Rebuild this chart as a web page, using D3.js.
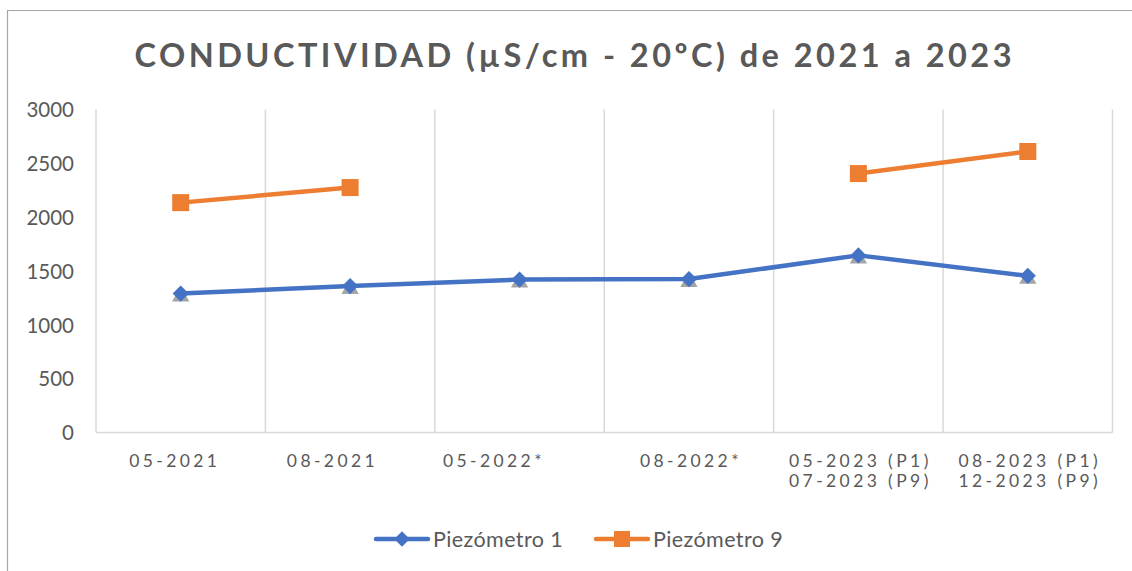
<!DOCTYPE html>
<html>
<head>
<meta charset="utf-8">
<script src="https://cdn.jsdelivr.net/npm/d3@7"></script>
<style>
  html, body { margin: 0; padding: 0; background: #fff; }
  svg { display: block; }
  text { font-family: Lato, "Open Sans", sans-serif; fill: #595959; }
</style>
</head>
<body>
<svg id="chart" width="1132" height="571"></svg>
<script>
const title = "CONDUCTIVIDAD (µS/cm - 20ºC) de 2021 a 2023";
const categories = [
  ["05-2021  "],
  ["08-2021     "],
  ["05-2022*       "],
  ["08-2022*"],
  ["05-2023 (P1)", "07-2023 (P9)"],
  ["08-2023 (P1)", "12-2023 (P9)"]
];
const seriesNames = ["Piezómetro 1", "Piezómetro 9"];
const piezometro1 = [1290, 1360, 1420, 1425, 1645, 1455];
const piezometro9 = [2135, 2275, null, null, 2405, 2610];
const hiddenSeries = [1290, 1360, 1420, 1425, 1645, 1455];
const yTicks = [0, 500, 1000, 1500, 2000, 2500, 3000];

const svg = d3.select("#chart");
const W = 1132, H = 571;
const m = { left: 96, right: 1112.5, top: 109.5, bottom: 432.5 };

// outer border (partially visible)
svg.append("path")
  .attr("d", `M7.5,${H} L7.5,10.5 L${W},10.5`)
  .attr("fill", "none").attr("stroke", "#a6a6a6").attr("stroke-width", 1.2);

// title
svg.append("text")
  .attr("x", 573).attr("y", 67)
  .attr("text-anchor", "middle")
  .attr("textLength", 877).attr("lengthAdjust", "spacing")
  .style("font-size", "32.5px").style("font-weight", "700")
  .style("font-family", "Lato, 'Open Sans', sans-serif")
  .text(title);

const idx = categories.map((d, i) => i);
const x = d3.scaleBand().domain(idx).range([m.left, m.right]).paddingInner(0).paddingOuter(0);
const y = d3.scaleLinear().domain([0, 3000]).range([m.bottom, m.top]);

// vertical gridlines at category boundaries
const bounds = idx.map(i => x(i)).concat([x(idx.length - 1) + x.bandwidth()]);
svg.append("g").selectAll("line").data(bounds).join("line")
  .attr("x1", d => d).attr("x2", d => d)
  .attr("y1", m.top).attr("y2", m.bottom)
  .attr("stroke", "#d9d9d9").attr("stroke-width", 1.5);

// baseline
svg.append("line")
  .attr("x1", m.left).attr("x2", m.right)
  .attr("y1", m.bottom).attr("y2", m.bottom)
  .attr("stroke", "#d9d9d9").attr("stroke-width", 1.5);

// y axis labels
const yAxis = d3.axisLeft(y).tickValues(yTicks).tickFormat(d3.format("d")).tickSize(0).tickPadding(0);
const gy = svg.append("g").attr("transform", "translate(74,0)").call(yAxis);
gy.select(".domain").remove();
gy.selectAll("text").style("font-size", "20.5px").style("font-family", "Lato, sans-serif").attr("fill", "#595959").attr("dy", "0.35em");

// x axis labels
const xAxis = d3.axisBottom(x).tickSize(0).tickFormat("");
const gx = svg.append("g").attr("transform", `translate(0,${m.bottom})`).call(xAxis);
gx.select(".domain").remove();
gx.selectAll(".tick").each(function(i) {
  const t = d3.select(this).append("text")
    .attr("text-anchor", "middle")
    .attr("y", 34)
    .style("font-size", "17.5px")
    .style("letter-spacing", "3.4px")
    .style("white-space", "pre")
    .attr("fill", "#595959");
  categories[i].forEach((line, k) => {
    t.append("tspan").attr("x", 2).attr("dy", k === 0 ? 0 : 20).text(line);
  });
});

const cx = i => x(i) + x.bandwidth() / 2;
const line = d3.line().defined(d => d != null).x((d, i) => cx(i)).y(d => y(d));

// hidden grey series (triangles only)
svg.append("g").selectAll("path").data(hiddenSeries).join("path")
  .attr("d", d3.symbol(d3.symbolTriangle, 130))
  .attr("transform", (d, i) => `translate(${cx(i)},${y(d) + 3})`)
  .attr("fill", "#a5a5a5");

// Piezómetro 1
svg.append("path").datum(piezometro1)
  .attr("d", line).attr("fill", "none")
  .attr("stroke", "#4472c4").attr("stroke-width", 4.5).attr("stroke-linejoin", "round").attr("stroke-linecap", "round");
svg.append("g").selectAll("rect").data(piezometro1).join("rect")
  .attr("x", -5.7).attr("y", -5.7).attr("width", 11.4).attr("height", 11.4)
  .attr("transform", (d, i) => `translate(${cx(i)},${y(d)}) rotate(45)`)
  .attr("fill", "#4472c4");

// Piezómetro 9
svg.append("path").datum(piezometro9)
  .attr("d", line).attr("fill", "none")
  .attr("stroke", "#ed7d31").attr("stroke-width", 4.5).attr("stroke-linejoin", "round").attr("stroke-linecap", "round");
svg.append("g").selectAll("rect").data(piezometro9.map((v, i) => ({ v, i })).filter(d => d.v != null)).join("rect")
  .attr("x", d => cx(d.i) - 8.5).attr("y", d => y(d.v) - 8.5)
  .attr("width", 17).attr("height", 17)
  .attr("fill", "#ed7d31");

// legend
const legend = [
  { name: seriesNames[0], color: "#4472c4", x0: 376, shape: "diamond" },
  { name: seriesNames[1], color: "#ed7d31", x0: 596, shape: "square" }
];
const ly = 539;
legend.forEach(l => {
  const g = svg.append("g");
  g.append("line").attr("x1", l.x0).attr("x2", l.x0 + 52).attr("y1", ly).attr("y2", ly)
    .attr("stroke", l.color).attr("stroke-width", 4.5).attr("stroke-linecap", "round");
  if (l.shape === "diamond") {
    g.append("rect").attr("x", -5.5).attr("y", -5.5).attr("width", 11).attr("height", 11)
      .attr("transform", `translate(${l.x0 + 26},${ly}) rotate(45)`).attr("fill", l.color);
  } else {
    g.append("rect").attr("x", l.x0 + 26 - 8).attr("y", ly - 8).attr("width", 16).attr("height", 16).attr("fill", l.color);
  }
  g.append("text").attr("x", l.x0 + 57).attr("y", ly).attr("dy", "0.36em")
    .style("font-size", "21.5px").style("letter-spacing", "0.4px").attr("fill", "#595959").text(l.name);
});
</script>
</body>
</html>
